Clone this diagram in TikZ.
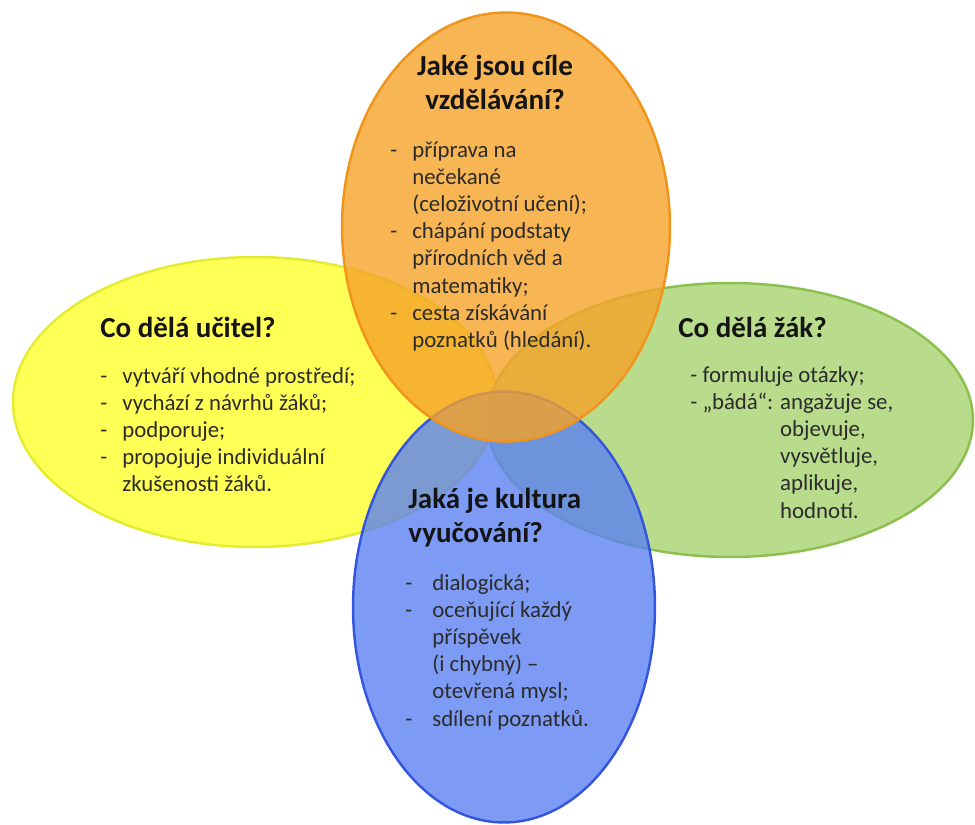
\documentclass[tikz,border=0pt]{standalone}
\usepackage{fontspec}
\setmainfont{Carlito}
\usepackage{xcolor}
\usetikzlibrary{shapes.geometric}
\definecolor{softyellowfill}{RGB}{255,255,42}
\definecolor{yellowedge}{RGB}{228,236,50}
\definecolor{softgreenfill}{RGB}{167,211,111}
\definecolor{greenedge}{RGB}{140,192,78}
\definecolor{softbluefill}{RGB}{92,130,242}
\definecolor{blueedge}{RGB}{52,86,222}
\definecolor{softorangefill}{RGB}{246,162,40}
\definecolor{orangeedge}{RGB}{240,148,28}
\definecolor{headtext}{HTML}{141414}
\definecolor{bodytext}{HTML}{2B2B2B}
\tikzset{
  bubble/.style={ellipse, inner sep=0pt, outer sep=0pt, line width=1.4pt, fill opacity=0.8},
  byellow/.style={bubble, fill=softyellowfill, draw=yellowedge},
  bgreen/.style={bubble, fill=softgreenfill, draw=greenedge},
  bblue/.style={bubble, fill=softbluefill, draw=blueedge},
  borange/.style={bubble, fill=softorangefill, draw=orangeedge},
  heading/.style={inner sep=0pt, anchor=base west, text=headtext, font=\fontsize{16.5}{19.8}\selectfont\bfseries},
  listtext/.style={inner sep=0pt, anchor=base west, text=bodytext, font=\fontsize{13}{15.5}\selectfont}
}

\begin{document}
\begin{tikzpicture}[x=0.02cm,y=-0.02cm]
  \useasboundingbox (0,0) rectangle (975,825);

  % the four bubbles
  \node[byellow, minimum width=9.68cm, minimum height=5.8cm] (teacher) at (255,402) {};
  \node[bgreen, minimum width=9.72cm, minimum height=5.48cm] (pupil) at (730,420) {};
  \node[bblue, minimum width=6.04cm, minimum height=8.62cm] (culture) at (504,607) {};
  \node[borange, minimum width=6.56cm, minimum height=8.58cm] (goals) at (506,227) {};

  % goals
  \node[heading, anchor=base] (goalshead) at (495,75)
    {\begin{tabular}[t]{@{}c@{}}Jaké jsou cíle\\vzdělávání?\end{tabular}};
  \node[listtext] (goalslist) at (390,157)
    {\begin{tabular}[t]{@{}p{0.44cm}@{}l@{}}
      - & příprava na\\
        & nečekané\\
        & (celoživotní učení);\\
      - & chápání podstaty\\
        & přírodních věd a\\
        & matematiky;\\
      - & cesta získávání\\
        & poznatků (hledání).
    \end{tabular}};

  % teacher
  \node[heading] (teacherhead) at (100,337) {Co dělá učitel?};
  \node[listtext] (teacherlist) at (100,383)
    {\begin{tabular}[t]{@{}p{0.44cm}@{}l@{}}
      - & vytváří vhodné prostředí;\\
      - & vychází z návrhů žáků;\\
      - & podporuje;\\
      - & propojuje individuální\\
        & zkušenosti žáků.
    \end{tabular}};

  % pupil
  \node[heading] (pupilhead) at (678,337) {Co dělá žák?};
  \node[listtext] (pupillist) at (690,382)
    {\begin{tabular}[t]{@{}l@{\hspace{0.14cm}}l@{}}
      \multicolumn{2}{@{}l@{}}{- formuluje otázky;}\\
      - „bádá“: & angažuje se,\\
        & objevuje,\\
        & vysvětluje,\\
        & aplikuje,\\
        & hodnotí.
    \end{tabular}};

  % culture
  \node[heading] (culturehead) at (408,508)
    {\begin{tabular}[t]{@{}l@{}}Jaká je kultura\\vyučování?\end{tabular}};
  \node[listtext] (culturelist) at (405,590)
    {\begin{tabular}[t]{@{}p{0.54cm}@{}l@{}}
      - & dialogická;\\
      - & oceňující každý\\
        & příspěvek\\
        & (i chybný) –\\
        & otevřená mysl;\\
      - & sdílení poznatků.
    \end{tabular}};
\end{tikzpicture}
\end{document}
